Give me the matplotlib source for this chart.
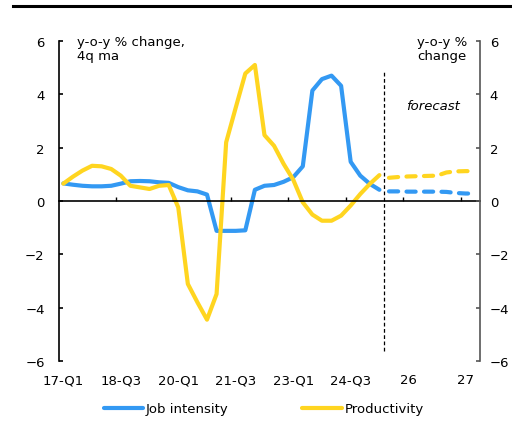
import matplotlib
matplotlib.use("Agg")
import matplotlib.pyplot as plt
from matplotlib.lines import Line2D

# quarters 17-Q1 .. 27-Q4 ; actuals up to 25-Q2, forecast after
tick_labels = ["17-Q1", "18-Q3", "20-Q1", "21-Q3", "23-Q1", "24-Q3", "26", "27"]

job_intensity = [0.66, 0.61, 0.57, 0.55, 0.55, 0.57, 0.65, 0.74, 0.75, 0.74,
                 0.70, 0.68, 0.52, 0.40, 0.36, 0.24, -1.12, -1.12, -1.12, -1.10,
                 0.42, 0.57, 0.60, 0.72, 0.89, 1.30, 4.14, 4.57, 4.70, 4.32,
                 1.47, 0.95, 0.64, 0.42]
job_intensity_fc = [0.36, 0.36, 0.35, 0.35, 0.35, 0.35, 0.34, 0.30, 0.28, 0.28]

productivity = [0.65, 0.91, 1.14, 1.32, 1.30, 1.20, 0.95, 0.57, 0.51, 0.45,
                0.57, 0.60, -0.24, -3.11, -3.80, -4.45, -3.49, 2.20, 3.50, 4.78,
                5.10, 2.47, 2.07, 1.39, 0.80, -0.05, -0.51, -0.74, -0.74, -0.55,
                -0.17, 0.26, 0.64, 0.97]
productivity_fc = [0.87, 0.90, 0.92, 0.93, 0.94, 0.95, 1.07, 1.11, 1.12, 1.12]

blue = "#3399f3"
yellow = "#ffd520"
fs = 9.5

n_act = len(job_intensity)
x_act = list(range(n_act))
x_fc = list(range(n_act, n_act + len(job_intensity_fc)))
n_all = n_act + len(job_intensity_fc)

fig = plt.figure(figsize=(5.12, 4.31), dpi=100)
ax = fig.add_axes([0.1143, 0.1601, 0.8232, 0.7425])

ax.plot(x_act, job_intensity, color=blue, lw=3, solid_capstyle="round", label="Job intensity")
ax.plot(x_act, productivity, color=yellow, lw=3, solid_capstyle="round", label="Productivity")
ax.plot(x_fc, job_intensity_fc, color=blue, lw=3, dashes=(2.2, 2.0), dash_capstyle="round")
ax.plot(x_fc, productivity_fc, color=yellow, lw=3, dashes=(2.2, 2.0), dash_capstyle="round")

# forecast separator
ax.plot([n_act - 0.5, n_act - 0.5], [-5.62, 4.89], color="black", lw=0.9, dashes=(3, 2))

ax.set_xlim(-0.5, n_all - 0.5)
ax.set_ylim(-6, 6)
ax.set_yticks([-6, -4, -2, 0, 2, 4, 6])

# zero line with small ticks at group boundaries
ax.spines["bottom"].set_position(("data", 0))
ax.spines["top"].set_visible(False)
ax.spines["right"].set_visible(False)
ax.spines["bottom"].set_linewidth(1.2)
ax.spines["left"].set_linewidth(1.2)
ax.set_xticks([i - 0.5 for i in range(6, n_all, 6)])
ax.set_xticklabels([])
ax.tick_params(axis="x", direction="in", length=3.2, width=1)
ax.tick_params(axis="y", direction="in", length=3.2, width=1.2, pad=10, labelsize=fs)

# category labels at the bottom
sec = ax.secondary_xaxis(0)
sec.set_xticks(list(range(0, n_all, 6)))
sec.set_xticklabels(tick_labels, fontsize=fs)
sec.tick_params(length=0, pad=9)
sec.spines["bottom"].set_visible(False)

ax2 = ax.twinx()
ax2.set_ylim(-6, 6)
ax2.set_yticks([-6, -4, -2, 0, 2, 4, 6])
for s in ["top", "left", "bottom"]:
    ax2.spines[s].set_visible(False)
ax2.spines["right"].set_color("#555555")
ax2.spines["right"].set_linewidth(1.2)
ax2.tick_params(axis="y", direction="in", length=3.2, width=1.2, pad=7, labelsize=fs,
                color="#555555")

ax.text(0.044, 1.02, "y-o-y % change,\n4q ma", transform=ax.transAxes,
        ha="left", va="top", fontsize=fs, linespacing=1.15)
ax.text(0.969, 1.02, "y-o-y %\nchange", transform=ax.transAxes,
        ha="right", va="top", fontsize=fs, linespacing=1.15)
ax.text(0.888, 0.798, "forecast", transform=ax.transAxes, ha="center", va="center",
        fontsize=fs, style="italic")

fig.legend(handles=ax.get_lines()[:2], loc="center", bbox_to_anchor=(0.515, 0.049),
           ncol=2, frameon=False, fontsize=fs, handlelength=3.0, handletextpad=0.2,
           columnspacing=5.6)

fig.add_artist(Line2D([0.025, 1.0], [0.984, 0.984], color="black", lw=2.2,
                      transform=fig.transFigure))

fig.savefig("out.png", dpi=100)
